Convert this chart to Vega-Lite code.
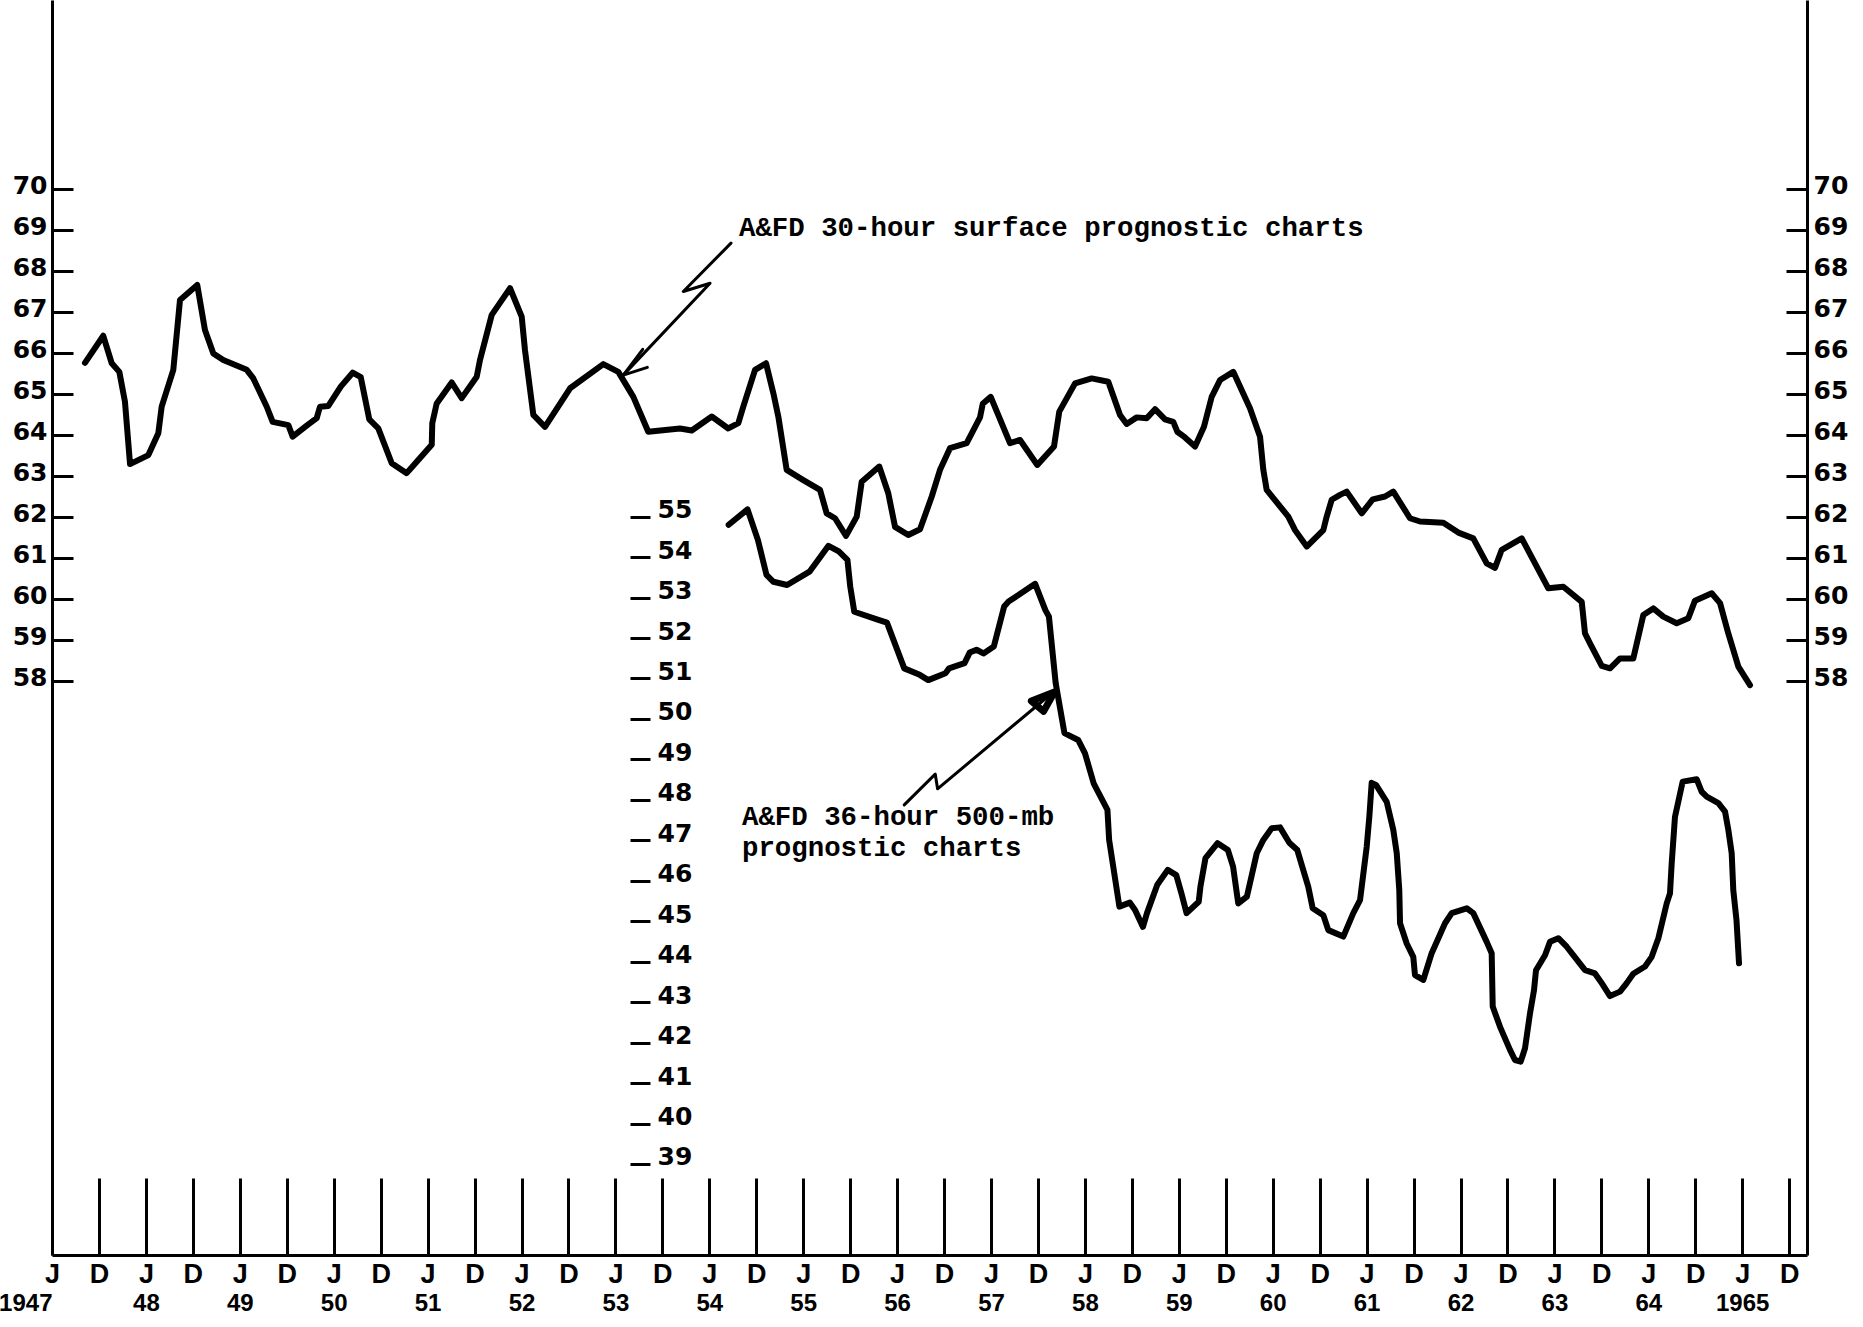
{
  "$schema": "https://vega.github.io/schema/vega-lite/v6.json",
  "width": 1755,
  "height": 1255,
  "autosize": {"type": "none"},
  "padding": {"left": 52, "top": 0, "right": 56, "bottom": 72},
  "background": "white",
  "config": {
    "view": {"stroke": null},
    "axis": {"grid": false, "domainColor": "black", "tickColor": "black", "labelColor": "black", "domainWidth": 3, "tickWidth": 3, "labelOverlap": false, "labelFlush": false}
  },
  "datasets": {
    "surface": [
      {"t":1947.351,"v":65.76},{"t":1947.546,"v":66.42},{"t":1947.636,"v":65.75},{"t":1947.717,"v":65.54},{"t":1947.777,"v":64.81},{"t":1947.831,"v":63.29},{"t":1948.026,"v":63.51},{"t":1948.132,"v":64.04},{"t":1948.168,"v":64.69},{"t":1948.292,"v":65.59},{"t":1948.363,"v":67.29},{"t":1948.547,"v":67.66},{"t":1948.629,"v":66.56},{"t":1948.718,"v":65.99},{"t":1948.824,"v":65.83},{"t":1949.074,"v":65.59},{"t":1949.144,"v":65.38},{"t":1949.287,"v":64.69},{"t":1949.350,"v":64.32},{"t":1949.517,"v":64.24},{"t":1949.563,"v":63.96},{"t":1949.719,"v":64.24},{"t":1949.819,"v":64.41},{"t":1949.854,"v":64.69},{"t":1949.943,"v":64.71},{"t":1950.075,"v":65.18},{"t":1950.202,"v":65.52},{"t":1950.288,"v":65.41},{"t":1950.379,"v":64.38},{"t":1950.475,"v":64.16},{"t":1950.618,"v":63.31},{"t":1950.777,"v":63.07},{"t":1950.884,"v":63.35},{"t":1951.044,"v":63.76},{"t":1951.050,"v":64.29},{"t":1951.097,"v":64.77},{"t":1951.257,"v":65.28},{"t":1951.363,"v":64.90},{"t":1951.523,"v":65.42},{"t":1951.558,"v":65.83},{"t":1951.683,"v":66.93},{"t":1951.878,"v":67.58},{"t":1952.002,"v":66.89},{"t":1952.037,"v":66.07},{"t":1952.126,"v":64.49},{"t":1952.250,"v":64.20},{"t":1952.517,"v":65.14},{"t":1952.871,"v":65.73},{"t":1953.031,"v":65.54},{"t":1953.191,"v":64.93},{"t":1953.350,"v":64.08},{"t":1953.688,"v":64.16},{"t":1953.813,"v":64.11},{"t":1954.026,"v":64.45},{"t":1954.202,"v":64.16},{"t":1954.309,"v":64.29},{"t":1954.362,"v":64.69},{"t":1954.487,"v":65.59},{"t":1954.604,"v":65.75},{"t":1954.682,"v":65.02},{"t":1954.735,"v":64.45},{"t":1954.824,"v":63.15},{"t":1955.001,"v":62.90},{"t":1955.179,"v":62.66},{"t":1955.250,"v":62.09},{"t":1955.339,"v":61.97},{"t":1955.456,"v":61.54},{"t":1955.570,"v":62.01},{"t":1955.623,"v":62.86},{"t":1955.810,"v":63.23},{"t":1955.906,"v":62.58},{"t":1955.978,"v":61.76},{"t":1956.119,"v":61.56},{"t":1956.244,"v":61.70},{"t":1956.369,"v":62.50},{"t":1956.457,"v":63.15},{"t":1956.563,"v":63.68},{"t":1956.741,"v":63.80},{"t":1956.883,"v":64.43},{"t":1956.912,"v":64.76},{"t":1956.997,"v":64.93},{"t":1957.202,"v":63.80},{"t":1957.309,"v":63.88},{"t":1957.493,"v":63.27},{"t":1957.671,"v":63.72},{"t":1957.727,"v":64.57},{"t":1957.895,"v":65.26},{"t":1958.072,"v":65.38},{"t":1958.249,"v":65.30},{"t":1958.374,"v":64.49},{"t":1958.445,"v":64.27},{"t":1958.552,"v":64.43},{"t":1958.658,"v":64.41},{"t":1958.747,"v":64.63},{"t":1958.853,"v":64.38},{"t":1958.941,"v":64.32},{"t":1958.984,"v":64.08},{"t":1959.066,"v":63.94},{"t":1959.173,"v":63.72},{"t":1959.268,"v":64.20},{"t":1959.350,"v":64.93},{"t":1959.439,"v":65.34},{"t":1959.580,"v":65.54},{"t":1959.758,"v":64.65},{"t":1959.865,"v":63.96},{"t":1959.900,"v":63.15},{"t":1959.936,"v":62.66},{"t":1960.166,"v":62.01},{"t":1960.238,"v":61.68},{"t":1960.362,"v":61.28},{"t":1960.539,"v":61.68},{"t":1960.575,"v":62.01},{"t":1960.628,"v":62.42},{"t":1960.717,"v":62.54},{"t":1960.788,"v":62.62},{"t":1960.948,"v":62.09},{"t":1961.065,"v":62.43},{"t":1961.196,"v":62.50},{"t":1961.284,"v":62.62},{"t":1961.462,"v":61.97},{"t":1961.569,"v":61.89},{"t":1961.817,"v":61.86},{"t":1961.977,"v":61.62},{"t":1962.136,"v":61.48},{"t":1962.279,"v":60.87},{"t":1962.367,"v":60.76},{"t":1962.439,"v":61.20},{"t":1962.652,"v":61.48},{"t":1962.935,"v":60.26},{"t":1963.095,"v":60.30},{"t":1963.291,"v":59.93},{"t":1963.326,"v":59.16},{"t":1963.379,"v":58.92},{"t":1963.504,"v":58.37},{"t":1963.592,"v":58.31},{"t":1963.699,"v":58.55},{"t":1963.840,"v":58.55},{"t":1963.947,"v":59.61},{"t":1964.053,"v":59.77},{"t":1964.160,"v":59.57},{"t":1964.302,"v":59.41},{"t":1964.426,"v":59.53},{"t":1964.497,"v":59.96},{"t":1964.675,"v":60.14},{"t":1964.764,"v":59.90},{"t":1964.852,"v":59.16},{"t":1964.959,"v":58.35},{"t":1965.083,"v":57.90}
    ],
    "mb500": [
      {"t":1954.206,"v":54.80},{"t":1954.407,"v":55.18},{"t":1954.518,"v":54.42},{"t":1954.609,"v":53.56},{"t":1954.683,"v":53.39},{"t":1954.829,"v":53.31},{"t":1955.067,"v":53.64},{"t":1955.269,"v":54.28},{"t":1955.379,"v":54.14},{"t":1955.471,"v":53.93},{"t":1955.501,"v":53.27},{"t":1955.544,"v":52.65},{"t":1955.801,"v":52.45},{"t":1955.892,"v":52.38},{"t":1956.076,"v":51.25},{"t":1956.241,"v":51.09},{"t":1956.332,"v":50.96},{"t":1956.515,"v":51.13},{"t":1956.553,"v":51.25},{"t":1956.718,"v":51.38},{"t":1956.773,"v":51.64},{"t":1956.846,"v":51.71},{"t":1956.919,"v":51.62},{"t":1957.030,"v":51.79},{"t":1957.140,"v":52.78},{"t":1957.187,"v":52.90},{"t":1957.470,"v":53.34},{"t":1957.579,"v":52.69},{"t":1957.617,"v":52.53},{"t":1957.689,"v":50.88},{"t":1957.782,"v":49.65},{"t":1957.928,"v":49.48},{"t":1958.001,"v":49.15},{"t":1958.093,"v":48.41},{"t":1958.240,"v":47.75},{"t":1958.258,"v":47.01},{"t":1958.367,"v":45.36},{"t":1958.478,"v":45.46},{"t":1958.534,"v":45.28},{"t":1958.618,"v":44.86},{"t":1958.661,"v":45.20},{"t":1958.771,"v":45.90},{"t":1958.882,"v":46.27},{"t":1958.973,"v":46.14},{"t":1959.028,"v":45.69},{"t":1959.083,"v":45.20},{"t":1959.212,"v":45.48},{"t":1959.230,"v":45.85},{"t":1959.284,"v":46.56},{"t":1959.413,"v":46.93},{"t":1959.523,"v":46.76},{"t":1959.578,"v":46.35},{"t":1959.633,"v":45.44},{"t":1959.725,"v":45.61},{"t":1959.830,"v":46.68},{"t":1959.900,"v":47.01},{"t":1959.989,"v":47.30},{"t":1960.078,"v":47.32},{"t":1960.177,"v":46.94},{"t":1960.262,"v":46.76},{"t":1960.379,"v":45.85},{"t":1960.426,"v":45.32},{"t":1960.539,"v":45.15},{"t":1960.592,"v":44.78},{"t":1960.752,"v":44.62},{"t":1960.858,"v":45.20},{"t":1960.930,"v":45.52},{"t":1961.001,"v":46.84},{"t":1961.029,"v":47.58},{"t":1961.054,"v":48.42},{"t":1961.100,"v":48.37},{"t":1961.214,"v":47.95},{"t":1961.284,"v":47.26},{"t":1961.321,"v":46.68},{"t":1961.348,"v":45.77},{"t":1961.356,"v":44.95},{"t":1961.427,"v":44.45},{"t":1961.497,"v":44.12},{"t":1961.515,"v":43.67},{"t":1961.604,"v":43.55},{"t":1961.693,"v":44.21},{"t":1961.835,"v":44.95},{"t":1961.906,"v":45.20},{"t":1962.066,"v":45.32},{"t":1962.136,"v":45.20},{"t":1962.279,"v":44.49},{"t":1962.332,"v":44.21},{"t":1962.343,"v":42.89},{"t":1962.421,"v":42.39},{"t":1962.527,"v":41.82},{"t":1962.580,"v":41.57},{"t":1962.641,"v":41.53},{"t":1962.687,"v":41.86},{"t":1962.740,"v":42.72},{"t":1962.783,"v":43.30},{"t":1962.804,"v":43.79},{"t":1962.900,"v":44.16},{"t":1962.953,"v":44.49},{"t":1963.042,"v":44.58},{"t":1963.131,"v":44.37},{"t":1963.201,"v":44.16},{"t":1963.326,"v":43.79},{"t":1963.432,"v":43.71},{"t":1963.504,"v":43.47},{"t":1963.592,"v":43.15},{"t":1963.699,"v":43.26},{"t":1963.770,"v":43.47},{"t":1963.840,"v":43.70},{"t":1963.965,"v":43.88},{"t":1964.036,"v":44.12},{"t":1964.107,"v":44.58},{"t":1964.196,"v":45.44},{"t":1964.231,"v":45.69},{"t":1964.249,"v":46.43},{"t":1964.284,"v":47.58},{"t":1964.366,"v":48.45},{"t":1964.515,"v":48.51},{"t":1964.569,"v":48.20},{"t":1964.622,"v":48.08},{"t":1964.746,"v":47.92},{"t":1964.817,"v":47.71},{"t":1964.852,"v":47.26},{"t":1964.888,"v":46.68},{"t":1964.905,"v":45.77},{"t":1964.939,"v":45.03},{"t":1964.966,"v":43.96}
    ],
    "arrows": [
      {"g":"a","i":0,"t":1954.231,"v":68.68},{"g":"a","i":1,"t":1953.723,"v":67.50},{"g":"a","i":2,"t":1954.008,"v":67.70},{"g":"a","i":3,"t":1953.084,"v":65.46},
      {"g":"b","i":0,"t":1953.291,"v":66.09},{"g":"b","i":1,"t":1953.084,"v":65.46},{"g":"b","i":2,"t":1953.340,"v":65.65},
      {"g":"c","i":0,"t":1956.076,"v":54.98},{"g":"c","i":1,"t":1956.406,"v":55.73},{"g":"c","i":2,"t":1956.431,"v":55.37},{"g":"c","i":3,"t":1957.689,"v":57.78},
      {"g":"d","i":0,"t":1957.430,"v":57.51},{"g":"d","i":1,"t":1957.675,"v":57.73},{"g":"d","i":2,"t":1957.560,"v":57.26},{"g":"d","i":3,"t":1957.430,"v":57.51}
    ],
    "notes": [
      {"txt":"A&FD 30-hour surface prognostic charts","t":1954.316,"v":69.05},
      {"txt":"A&FD 36-hour 500-mb","t":1954.348,"v":54.69},
      {"txt":"prognostic charts","t":1954.348,"v":53.92}
    ]
  },
  "resolve": {"scale": {"y": "independent"}, "axis": {"x": "independent", "y": "independent"}},
  "layer": [
    {
      "data": {"name": "surface"},
      "mark": {"type": "line", "color": "black", "strokeWidth": 6, "strokeJoin": "round", "strokeCap": "round"},
      "encoding": {
        "x": {"field": "t", "type": "quantitative", "scale": {"domain": [1947, 1965.69], "nice": false, "zero": false},
          "axis": {"orient": "bottom", "title": null, "values": [1947,1947.5,1948,1948.5,1949,1949.5,1950,1950.5,1951,1951.5,1952,1952.5,1953,1953.5,1954,1954.5,1955,1955.5,1956,1956.5,1957,1957.5,1958,1958.5,1959,1959.5,1960,1960.5,1961,1961.5,1962,1962.5,1963,1963.5,1964,1964.5,1965,1965.5],
            "labelExpr": "(datum.value % 1) == 0 ? 'J' : 'D'", "tickSize": -77, "labelPadding": 83,
            "labelFont": "Liberation Sans", "labelFontWeight": "bold", "labelFontSize": 27, "labelBaseline": "top"}},
        "y": {"field": "v", "type": "quantitative", "scale": {"domain": [44, 74.61], "nice": false, "zero": false},
          "axis": {"orient": "left", "title": null, "values": [58,59,60,61,62,63,64,65,66,67,68,69,70], "tickSize": -21, "labelPadding": 26,
            "labelFont": "DejaVu Sans", "labelFontWeight": "bold", "labelFontSize": 25, "labelOffset": -4}}
      }
    },
    {
      "data": {"name": "mb500"},
      "mark": {"type": "line", "color": "black", "strokeWidth": 6, "strokeJoin": "round", "strokeCap": "round"},
      "encoding": {
        "x": {"field": "t", "type": "quantitative", "scale": {"domain": [1947, 1965.69], "nice": false, "zero": false},
          "axis": {"orient": "bottom", "title": null, "values": [1947,1948,1949,1950,1951,1952,1953,1954,1955,1956,1957,1958,1959,1960,1961,1962,1963,1964,1965],
            "format": "d", "labelExpr": "datum.value == 1947 || datum.value == 1965 ? datum.label : substring(datum.label, 2, 4)",
            "ticks": false, "domain": false, "labelPadding": 36,
            "labelAlign": {"condition": {"test": "datum.value == 1947", "value": "right"}, "value": "center"},
            "labelFont": "Liberation Sans", "labelFontWeight": "bold", "labelFontSize": 24, "labelBaseline": "top"}},
        "y": {"field": "v", "type": "quantitative", "scale": {"domain": [36.75, 67.77], "nice": false, "zero": false},
          "axis": {"orient": "right", "offset": -1177, "title": null, "domain": false, "values": [39,40,41,42,43,44,45,46,47,48,49,50,51,52,53,54,55], "tickSize": 20, "labelPadding": 7,
            "labelFont": "DejaVu Sans", "labelFontWeight": "bold", "labelFontSize": 25, "labelOffset": -7}}
      }
    },
    {
      "data": {"name": "arrows"},
      "mark": {"type": "line", "color": "black", "strokeJoin": "round", "strokeCap": "round"},
      "encoding": {
        "x": {"field": "t", "type": "quantitative", "scale": {"domain": [1947, 1965.69], "nice": false, "zero": false}, "axis": null},
        "y": {"field": "v", "type": "quantitative", "scale": {"domain": [44, 74.61], "nice": false, "zero": false},
          "axis": {"orient": "right", "title": null, "values": [58,59,60,61,62,63,64,65,66,67,68,69,70], "tickSize": -21, "labelPadding": 27,
            "labelFont": "DejaVu Sans", "labelFontWeight": "bold", "labelFontSize": 25, "labelOffset": -4}},
        "detail": {"field": "g"},
        "order": {"field": "i"},
        "strokeWidth": {"condition": {"test": "datum.g == 'd'", "value": 7}, "value": 3}
      }
    },
    {
      "data": {"name": "notes"},
      "mark": {"type": "text", "align": "left", "baseline": "middle", "font": "Liberation Mono", "fontSize": 27.4, "fontWeight": "bold", "color": "black"},
      "encoding": {
        "x": {"field": "t", "type": "quantitative", "scale": {"domain": [1947, 1965.69], "nice": false, "zero": false}, "axis": null},
        "y": {"field": "v", "type": "quantitative", "scale": {"domain": [44, 74.61], "nice": false, "zero": false}, "axis": null},
        "text": {"field": "txt"}
      }
    }
  ]
}
